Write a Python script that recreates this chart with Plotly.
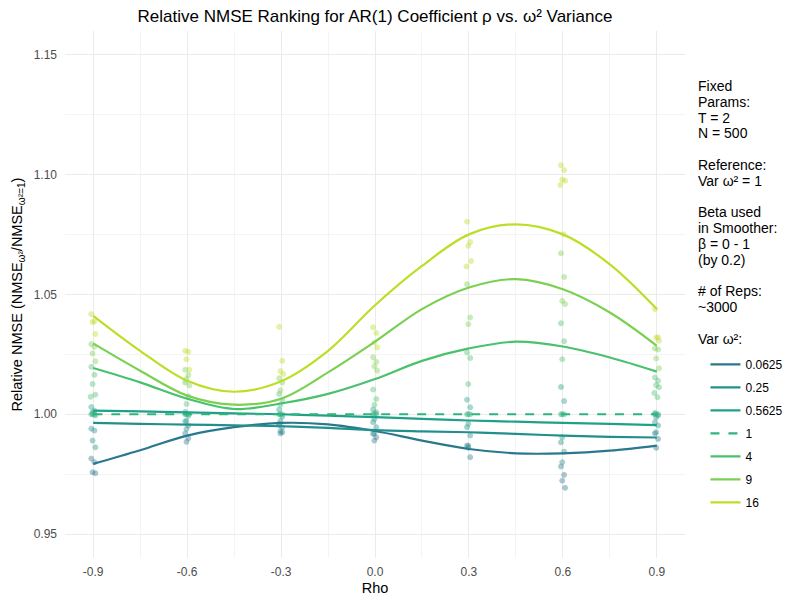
import plotly.graph_objects as go

# smoothed curves
rho_grid = [-0.9, -0.75, -0.6, -0.45, -0.3, -0.15, 0.0, 0.15, 0.3, 0.45, 0.6, 0.75, 0.9]
var_labels = ["0.0625", "0.25", "0.5625", "1", "4", "9", "16"]
x_ticks = [-0.9, -0.6, -0.3, 0.0, 0.3, 0.6, 0.9]
x_ticktext = ["-0.9", "-0.6", "-0.3", "0.0", "0.3", "0.6", "0.9"]

smooth_00625 = [0.9793, 0.9850, 0.9911, 0.9946, 0.9964, 0.9958, 0.9930, 0.9890, 0.9855, 0.9837, 0.9837, 0.9848, 0.9869]
smooth_025 = [0.9964, 0.9960, 0.9957, 0.9954, 0.9950, 0.9943, 0.9934, 0.9929, 0.9925, 0.9918, 0.9911, 0.9906, 0.9903]
smooth_05625 = [1.0015, 1.0012, 1.0008, 1.0004, 1.0000, 0.9994, 0.9988, 0.9981, 0.9974, 0.9969, 0.9964, 0.9960, 0.9955]
smooth_1 = [1.0, 1.0, 1.0, 1.0, 1.0, 1.0, 1.0, 1.0, 1.0, 1.0, 1.0, 1.0, 1.0]
smooth_4 = [1.0193, 1.0133, 1.0065, 1.0022, 1.0045, 1.0085, 1.0147, 1.0223, 1.0275, 1.0303, 1.0283, 1.0237, 1.0178]
smooth_9 = [1.0296, 1.0182, 1.0078, 1.0040, 1.0065, 1.0175, 1.0303, 1.0439, 1.0529, 1.0564, 1.0522, 1.0425, 1.0286]
smooth_16 = [1.0411, 1.0265, 1.0140, 1.0094, 1.0138, 1.0265, 1.0455, 1.0619, 1.0751, 1.0793, 1.0751, 1.0626, 1.0439]

# raw points, one list per rho value
rho_pts = [-0.9, -0.6, -0.3, 0.0, 0.3, 0.6, 0.9]
pts_00625 = [[0.9815, 0.9800, 0.9758, 0.9754], [0.9920, 0.9900, 0.9885], [0.9955, 0.9925, 0.9920],
             [0.9918, 0.9904, 0.9890], [0.9869, 0.9821, 0.9860], [0.9782, 0.9747, 0.9723, 0.9693],
             [0.9920, 0.9897, 0.9860]]
pts_025 = [[0.9940, 0.9932, 0.9890, 0.9862], [0.9970, 0.9953, 0.9939], [0.9960, 0.9946, 0.9930],
           [0.9967, 0.9946, 0.9920], [0.9946, 0.9911, 0.9869], [0.9883, 0.9844, 0.9800],
           [0.9967, 0.9953, 0.9925]]
pts_05625 = [[1.0030, 1.0015, 1.0007, 0.9995], [1.0010, 0.9994, 0.9973], [1.0020, 0.9990, 0.9973],
             [1.0020, 1.0008, 0.9980], [1.0061, 1.0029, 0.9960], [1.0114, 1.0055, 0.9904],
             [1.0005, 0.9995, 0.9987]]
pts_1 = [[1.0, 1.0, 1.0], [1.0, 1.0, 1.0], [1.0, 1.0, 1.0], [1.0, 1.0, 1.0],
         [1.0, 1.0, 1.0], [1.0, 1.0, 1.0], [1.0, 1.0, 1.0]]
pts_4 = [[1.0198, 1.0165, 1.0126, 1.0082, 1.0073], [1.0133, 1.0075, 1.0043], [1.0085, 1.0060, 1.0040],
         [1.0103, 1.0064, 1.0039], [1.0258, 1.0235, 1.0126], [1.0380, 1.0305, 1.0230],
         [1.0154, 1.0140, 1.0122, 1.0113, 1.0089, 1.0071]]
pts_9 = [[1.0293, 1.0282, 1.0254, 1.0221], [1.0186, 1.0164, 1.0147, 1.0120], [1.0150, 1.0133, 1.0100],
         [1.0238, 1.0219, 1.0200, 1.0182], [1.0543, 1.0404, 1.0376], [1.0672, 1.0573, 1.0473, 1.0460],
         [1.0275, 1.0270, 1.0233, 1.0192]]
pts_16 = [[1.0418, 1.0388, 1.0385, 1.0335], [1.0265, 1.0261, 1.0230, 1.0186], [1.0365, 1.0223, 1.0180, 1.0168],
          [1.0363, 1.0339, 1.0300, 1.0279], [1.0804, 1.0719, 1.0703, 1.0640, 1.0617],
          [1.1040, 1.1019, 1.0980, 1.0975, 1.0957, 1.0751], [1.0439, 1.0321, 1.0320, 1.0307]]

side_text = ["Fixed", "Params:", "T = 2", "N = 500", "", "Reference:", "Var ω² = 1", "",
             "Beta used", "in Smoother:", "β = 0 - 1", "(by 0.2)", "", "# of Reps:", "~3000", "",
             "Var ω²:"]

colors = ["#2A788E", "#21908C", "#1FA187", "#2FB47C", "#4AC16D", "#7AD151", "#BBDF27"]
smooths = [smooth_00625, smooth_025, smooth_05625, smooth_1, smooth_4, smooth_9, smooth_16]
points = [pts_00625, pts_025, pts_05625, pts_1, pts_4, pts_9, pts_16]

jit = [-0.006, 0.004, -0.002, 0.007, -0.008, 0.002]

fig = go.Figure()
for lab, col, sm, pts in zip(var_labels, colors, smooths, points):
    xs, ys = [], []
    for r, vals in zip(rho_pts, pts):
        for k, v in enumerate(vals):
            xs.append(r + jit[k % len(jit)])
            ys.append(v)
    fig.add_trace(go.Scatter(x=xs, y=ys, mode="markers", legendgroup=lab, showlegend=False,
                             marker=dict(color=col, size=5, opacity=0.4,
                                         line=dict(color=col, width=1)),
                             hoverinfo="skip"))
for lab, col, sm in zip(var_labels, colors, smooths):
    fig.add_trace(go.Scatter(x=rho_grid, y=sm, mode="lines", name=lab, legendgroup=lab,
                             line=dict(color=col, width=2.2, shape="spline",
                                       dash="dash" if lab == "1" else "solid")))

# side text block (page puts the figure 8px in from the corner)
for i, t in enumerate(side_text):
    if not t:
        continue
    ypx = 86 + 15.8 * i
    fig.add_annotation(text=t, xref="paper", yref="paper", x=1.018, y=1 - (ypx - 31) / 527,
                       xanchor="left", yanchor="middle", showarrow=False,
                       font=dict(size=14, color="black"))

fig.update_layout(
    width=809, height=603,
    margin=dict(l=57, r=132, t=23, b=53, autoexpand=False),
    paper_bgcolor="white", plot_bgcolor="white",
    font=dict(family="Liberation Sans, Arial, sans-serif", size=14, color="black"),
    title=dict(text="Relative NMSE Ranking for AR(1) Coefficient ρ vs. ω² Variance",
               x=0.5, xref="paper", xanchor="center", y=0.996, yanchor="top",
               font=dict(size=17, color="black")),
    legend=dict(x=1.033, xanchor="left", y=0.395, yanchor="top", traceorder="grouped",
                tracegroupgap=4, font=dict(size=12, color="black"), bgcolor="rgba(0,0,0,0)"),
    xaxis=dict(title=dict(text="Rho", standoff=4, font=dict(size=14.5)), range=[-0.99, 0.99],
               tickvals=x_ticks, ticktext=x_ticktext, automargin=False, ticklabelstandoff=5,
               showgrid=True, gridcolor="#EBEBEB", gridwidth=1,
               zeroline=False, showline=False, ticks="", tickfont=dict(size=12, color="#4D4D4D"),
               minor=dict(tickvals=[-0.75, -0.45, -0.15, 0.15, 0.45, 0.75], showgrid=True,
                          gridcolor="#F4F4F4", gridwidth=1)),
    yaxis=dict(title=dict(text="Relative NMSE (NMSE<sub>ω²</sub>/NMSE<sub>ω²=1</sub>)", standoff=7,
                          font=dict(size=14.5)),
               range=[0.94, 1.16], tick0=0.95, dtick=0.05, tickformat=".2f", automargin=False,
               ticklabelstandoff=7,
               showgrid=True, gridcolor="#EBEBEB", gridwidth=1,
               zeroline=False, showline=False, ticks="", tickfont=dict(size=12, color="#4D4D4D"),
               minor=dict(tick0=0.95, dtick=0.025, showgrid=True, gridcolor="#F4F4F4", gridwidth=1)),
)

fig.write_html("out.html")
